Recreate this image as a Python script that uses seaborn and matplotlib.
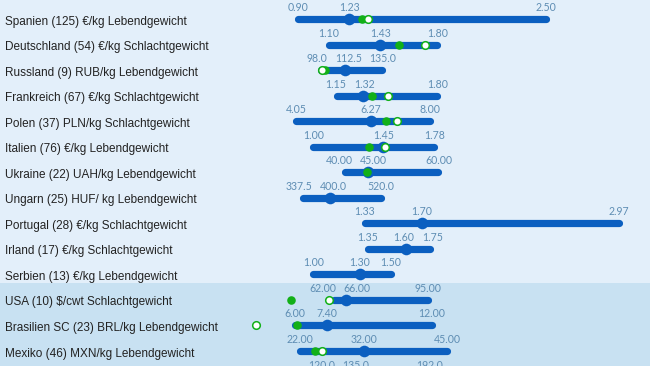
# Price ranges per country (min / median / max) on a common EUR-equivalent axis
import numpy as np
import pandas as pd
import matplotlib
matplotlib.use("Agg")
import matplotlib.pyplot as plt
import seaborn as sns

countries = [
    "Spanien (125) €/kg Lebendgewicht",
    "Deutschland (54) €/kg Schlachtgewicht",
    "Russland (9) RUB/kg Lebendgewicht",
    "Frankreich (67) €/kg Schlachtgewicht",
    "Polen (37) PLN/kg Schlachtgewicht",
    "Italien (76) €/kg Lebendgewicht",
    "Ukraine (22) UAH/kg Lebendgewicht",
    "Ungarn (25) HUF/ kg Lebendgewicht",
    "Portugal (28) €/kg Schlachtgewicht",
    "Irland (17) €/kg Schlachtgewicht",
    "Serbien (13) €/kg Lebendgewicht",
    "USA (10) $/cwt Schlachtgewicht",
    "Brasilien SC (23) BRL/kg Lebendgewicht",
    "Mexiko (46) MXN/kg Lebendgewicht",
    "",
]
price_min = [0.90, 1.10, 98.0, 1.15, 4.05, 1.00, 40.00, 337.5, 1.33, 1.35, 1.00, 62.00, 6.00, 22.00, 120.0]
price_mid = [1.23, 1.43, 112.5, 1.32, 6.27, 1.45, 45.00, 400.0, 1.70, 1.60, 1.30, 66.00, 7.40, 32.00, 135.0]
price_max = [2.50, 1.80, 135.0, 1.80, 8.00, 1.78, 60.00, 520.0, 2.97, 1.75, 1.50, 95.00, 12.00, 45.00, 192.0]
price_green = [1.31, 1.55, 100.1, 1.38, 6.72, 1.36, 44.6, np.nan, np.nan, np.nan, np.nan, 46.7, 6.09, 24.4, np.nan]
price_white = [1.35, 1.72, 98.6, 1.48, 7.04, 1.46, np.nan, np.nan, np.nan, np.nan, np.nan, 60.2, 4.27, 25.5, np.nan]
decimals = [2, 2, 1, 2, 2, 2, 2, 1, 2, 2, 2, 2, 2, 2, 1]
eur_rate = [1, 1, 0.0107, 1, 0.2188, 1, 0.0301, 0.00276, 1, 1, 1, 0.0183, 0.147, 0.0414, 0.0091]
first_overseas = 11  # USA onwards sits on the darker band

df = pd.DataFrame({
    "country": countries, "lo": price_min, "mid": price_mid, "hi": price_max,
    "green": price_green, "white": price_white, "dec": decimals, "rate": eur_rate,
})
df["row"] = np.arange(len(df))
for c in ["lo", "mid", "hi", "green", "white"]:
    df[c + "_x"] = df[c] * df["rate"]

light_bg = "#e3effa"
dark_bg = "#c8e1f2"
bar_blue = "#0b5fc0"
dot_green = "#12b018"
label_col = "#5e8db3"

sns.set_style("white")
plt.rcParams["font.family"] = ["Liberation Sans", "DejaVu Sans"]

fig = plt.figure(figsize=(6.5, 3.66), dpi=100, facecolor=light_bg)
ax = fig.add_axes([0, 0, 1, 1])

ax.axhspan(first_overseas - 0.65, 20, color=dark_bg, lw=0, zorder=0)

bars = ax.hlines(df["row"], df["lo_x"], df["hi_x"], colors=bar_blue, lw=5.2, zorder=2)
bars.set_capstyle("round")

sns.scatterplot(data=df, x="mid_x", y="row", color=bar_blue, s=70, linewidth=0, zorder=3, ax=ax)
sns.scatterplot(data=df, x="green_x", y="row", color=dot_green, s=38, linewidth=0, zorder=4, ax=ax)
sns.scatterplot(data=df, x="white_x", y="row", color="white", edgecolor=dot_green, s=30,
                linewidth=1.1, zorder=5, ax=ax)

ax.set_xlim(-1.0226, 3.171)
ax.set_ylim(13.587, -0.744)
ax.axis("off")

# value labels above the bars, pushed apart a little when they collide
px_per_unit = 650 / (3.171 + 1.0226)
char_w = 5.2 / px_per_unit
gap = 8 / px_per_unit
for _, r in df.iterrows():
    texts = [f"{v:.{r['dec']}f}" for v in (r["lo"], r["mid"], r["hi"])]
    xs = [r["lo_x"], r["mid_x"], r["hi_x"]]
    for a, b in [(0, 1), (1, 2)]:
        need = 0.5 * (len(texts[a]) + len(texts[b])) * char_w + gap
        d = xs[b] - xs[a]
        if d < need:
            xs[a] -= (need - d) / 2
            xs[b] += (need - d) / 2
    for x, t in zip(xs, texts):
        ax.text(x, r["row"] - 0.45, t, ha="center", va="center", fontsize=7.6,
                color=label_col, family=["Lato", "DejaVu Sans"], clip_on=False)
    ax.text(0.008, r["row"] + 0.1, r["country"], transform=ax.get_yaxis_transform(),
            ha="left", va="center", fontsize=8.5, color="#222222")

fig.savefig("out.png", dpi=100, facecolor=light_bg)
